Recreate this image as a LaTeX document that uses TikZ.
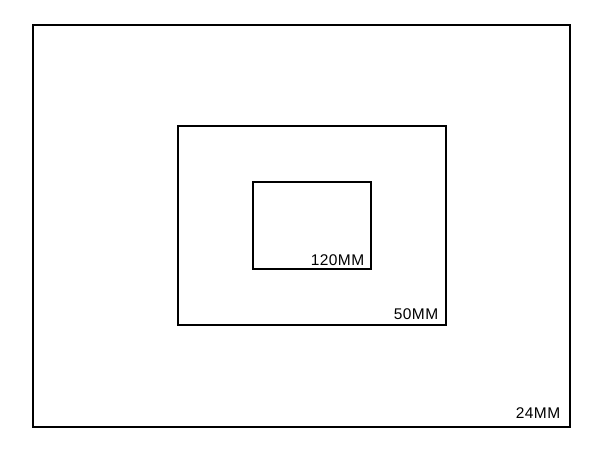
\documentclass[tikz,border=0pt]{standalone}
\usepackage{fontspec}
\setmainfont{Liberation Sans}
\begin{document}
\begin{tikzpicture}[x=1pt,y=-1pt,
  frame/.style={draw=black,line width=2pt},
  lbl/.style={anchor=base east,inner sep=0pt,font=\fontsize{15.5}{17}\selectfont\addfontfeature{LetterSpace=3}}]
\useasboundingbox[fill=white] (0,0) rectangle (600,450);
\node[frame,minimum width=537pt,minimum height=402pt,inner sep=0pt,anchor=north west] (outer) at (31.5,23.5) {};
\node[frame,minimum width=268pt,minimum height=199pt,inner sep=0pt,anchor=north west] (middle) at (176.5,124.5) {};
\node[frame,minimum width=118pt,minimum height=87pt,inner sep=0pt,anchor=north west] (inner) at (251.5,180.5) {};
\node[lbl] (l24) at (560.5,418.5) {24MM};
\node[lbl] (l50) at (438.5,319.5) {50MM};
\node[lbl] (l120) at (364.5,265) {120MM};
\end{tikzpicture}
\end{document}
